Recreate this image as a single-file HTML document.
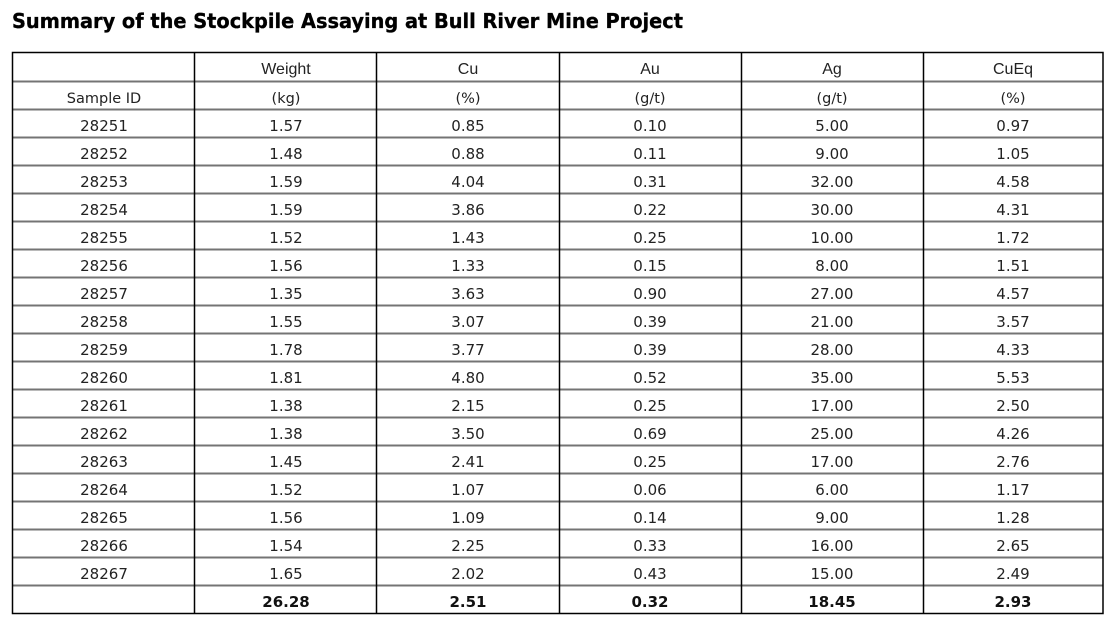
<!DOCTYPE html>
<html>
<head>
<meta charset="utf-8">
<style>
  html, body { margin: 0; padding: 0; background: #fff; }
  body { width: 1115px; height: 623px; overflow: hidden; }
  svg { display: block; }
  .t { font-family: "DejaVu Sans", "Liberation Sans", sans-serif; font-weight: bold; font-size: 20.5px; fill: #000; stroke: #000; stroke-width: 0.35px; }
  .h { font-family: "Liberation Sans", sans-serif; font-size: 16px; fill: #222; }
  .u { font-family: "DejaVu Sans", "Liberation Sans", sans-serif; font-size: 14.5px; fill: #222; }
  .d { font-family: "DejaVu Sans", "Liberation Sans", sans-serif; font-size: 15px; fill: #222; }
  .b { font-family: "DejaVu Sans", "Liberation Sans", sans-serif; font-size: 15px; font-weight: bold; fill: #111; }
</style>
</head>
<body>
<svg width="1115" height="623" viewBox="0 0 1115 623" xmlns="http://www.w3.org/2000/svg">
  <rect x="0" y="0" width="1115" height="623" fill="#fff"/>
  <text class="t" x="12" y="28" textLength="671" lengthAdjust="spacingAndGlyphs">Summary of the Stockpile Assaying at Bull River Mine Project</text>

  <!-- horizontal gray lines -->
  <g stroke="#747474" stroke-width="2">
    <line x1="12" x2="1103" y1="81.5" y2="81.5"/>
    <line x1="12" x2="1103" y1="109.5" y2="109.5"/>
    <line x1="12" x2="1103" y1="137.5" y2="137.5"/>
    <line x1="12" x2="1103" y1="165.5" y2="165.5"/>
    <line x1="12" x2="1103" y1="193.5" y2="193.5"/>
    <line x1="12" x2="1103" y1="221.5" y2="221.5"/>
    <line x1="12" x2="1103" y1="249.5" y2="249.5"/>
    <line x1="12" x2="1103" y1="277.5" y2="277.5"/>
    <line x1="12" x2="1103" y1="305.5" y2="305.5"/>
    <line x1="12" x2="1103" y1="333.5" y2="333.5"/>
    <line x1="12" x2="1103" y1="361.5" y2="361.5"/>
    <line x1="12" x2="1103" y1="389.5" y2="389.5"/>
    <line x1="12" x2="1103" y1="417.5" y2="417.5"/>
    <line x1="12" x2="1103" y1="445.5" y2="445.5"/>
    <line x1="12" x2="1103" y1="473.5" y2="473.5"/>
    <line x1="12" x2="1103" y1="501.5" y2="501.5"/>
    <line x1="12" x2="1103" y1="529.5" y2="529.5"/>
    <line x1="12" x2="1103" y1="557.5" y2="557.5"/>
    <line x1="12" x2="1103" y1="585.5" y2="585.5"/>
  </g>

  <!-- vertical black lines -->
  <g stroke="#000" stroke-width="1.5">
    <line x1="194.5" x2="194.5" y1="52" y2="614"/>
    <line x1="376.5" x2="376.5" y1="52" y2="614"/>
    <line x1="559.5" x2="559.5" y1="52" y2="614"/>
    <line x1="741.5" x2="741.5" y1="52" y2="614"/>
    <line x1="923.5" x2="923.5" y1="52" y2="614"/>
  </g>
  <rect x="12.5" y="52.5" width="1090.5" height="561" fill="none" stroke="#000" stroke-width="1.5"/>

  <!-- header row 1 -->
  <g class="h" text-anchor="middle">
    <text x="286" y="74">Weight</text>
    <text x="468" y="74">Cu</text>
    <text x="650" y="74">Au</text>
    <text x="832" y="74">Ag</text>
    <text x="1013" y="74">CuEq</text>
  </g>
  <!-- header row 2 -->
  <g class="u" text-anchor="middle">
    <text x="104" y="103">Sample ID</text>
    <text x="286" y="103">(kg)</text>
    <text x="468" y="103">(%)</text>
    <text x="650" y="103">(g/t)</text>
    <text x="832" y="103">(g/t)</text>
    <text x="1013" y="103">(%)</text>
  </g>

  <!-- data rows -->
  <g class="d" text-anchor="middle">
    <text x="104" y="131">28251</text><text x="286" y="131">1.57</text><text x="468" y="131">0.85</text><text x="650" y="131">0.10</text><text x="832" y="131">5.00</text><text x="1013" y="131">0.97</text>
    <text x="104" y="159">28252</text><text x="286" y="159">1.48</text><text x="468" y="159">0.88</text><text x="650" y="159">0.11</text><text x="832" y="159">9.00</text><text x="1013" y="159">1.05</text>
    <text x="104" y="187">28253</text><text x="286" y="187">1.59</text><text x="468" y="187">4.04</text><text x="650" y="187">0.31</text><text x="832" y="187">32.00</text><text x="1013" y="187">4.58</text>
    <text x="104" y="215">28254</text><text x="286" y="215">1.59</text><text x="468" y="215">3.86</text><text x="650" y="215">0.22</text><text x="832" y="215">30.00</text><text x="1013" y="215">4.31</text>
    <text x="104" y="243">28255</text><text x="286" y="243">1.52</text><text x="468" y="243">1.43</text><text x="650" y="243">0.25</text><text x="832" y="243">10.00</text><text x="1013" y="243">1.72</text>
    <text x="104" y="271">28256</text><text x="286" y="271">1.56</text><text x="468" y="271">1.33</text><text x="650" y="271">0.15</text><text x="832" y="271">8.00</text><text x="1013" y="271">1.51</text>
    <text x="104" y="299">28257</text><text x="286" y="299">1.35</text><text x="468" y="299">3.63</text><text x="650" y="299">0.90</text><text x="832" y="299">27.00</text><text x="1013" y="299">4.57</text>
    <text x="104" y="327">28258</text><text x="286" y="327">1.55</text><text x="468" y="327">3.07</text><text x="650" y="327">0.39</text><text x="832" y="327">21.00</text><text x="1013" y="327">3.57</text>
    <text x="104" y="355">28259</text><text x="286" y="355">1.78</text><text x="468" y="355">3.77</text><text x="650" y="355">0.39</text><text x="832" y="355">28.00</text><text x="1013" y="355">4.33</text>
    <text x="104" y="383">28260</text><text x="286" y="383">1.81</text><text x="468" y="383">4.80</text><text x="650" y="383">0.52</text><text x="832" y="383">35.00</text><text x="1013" y="383">5.53</text>
    <text x="104" y="411">28261</text><text x="286" y="411">1.38</text><text x="468" y="411">2.15</text><text x="650" y="411">0.25</text><text x="832" y="411">17.00</text><text x="1013" y="411">2.50</text>
    <text x="104" y="439">28262</text><text x="286" y="439">1.38</text><text x="468" y="439">3.50</text><text x="650" y="439">0.69</text><text x="832" y="439">25.00</text><text x="1013" y="439">4.26</text>
    <text x="104" y="467">28263</text><text x="286" y="467">1.45</text><text x="468" y="467">2.41</text><text x="650" y="467">0.25</text><text x="832" y="467">17.00</text><text x="1013" y="467">2.76</text>
    <text x="104" y="495">28264</text><text x="286" y="495">1.52</text><text x="468" y="495">1.07</text><text x="650" y="495">0.06</text><text x="832" y="495">6.00</text><text x="1013" y="495">1.17</text>
    <text x="104" y="523">28265</text><text x="286" y="523">1.56</text><text x="468" y="523">1.09</text><text x="650" y="523">0.14</text><text x="832" y="523">9.00</text><text x="1013" y="523">1.28</text>
    <text x="104" y="551">28266</text><text x="286" y="551">1.54</text><text x="468" y="551">2.25</text><text x="650" y="551">0.33</text><text x="832" y="551">16.00</text><text x="1013" y="551">2.65</text>
    <text x="104" y="579">28267</text><text x="286" y="579">1.65</text><text x="468" y="579">2.02</text><text x="650" y="579">0.43</text><text x="832" y="579">15.00</text><text x="1013" y="579">2.49</text>
  </g>

  <!-- totals -->
  <g class="b" text-anchor="middle">
    <text x="286" y="607">26.28</text>
    <text x="468" y="607">2.51</text>
    <text x="650" y="607">0.32</text>
    <text x="832" y="607">18.45</text>
    <text x="1013" y="607">2.93</text>
  </g>
</svg>
</body>
</html>
